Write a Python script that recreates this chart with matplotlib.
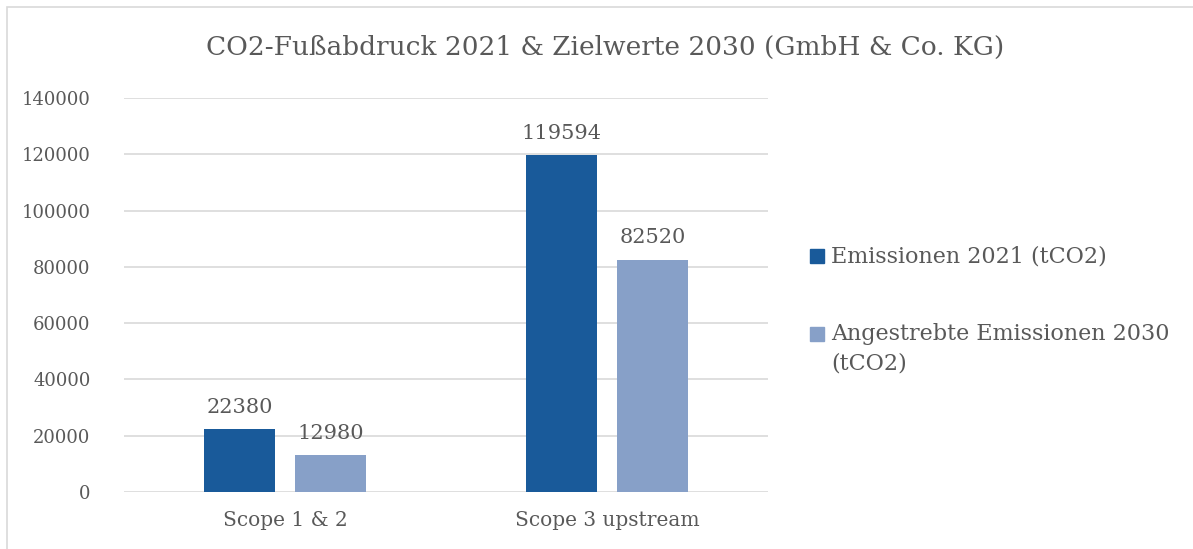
import matplotlib

matplotlib.use("Agg")
import matplotlib.pyplot as plt
import numpy as np
from matplotlib.patches import Rectangle

categories = ["Scope 1 & 2", "Scope 3 upstream"]
emissions_2021 = [22380, 119594]
target_2030 = [12980, 82520]
series_labels = ["Emissionen 2021 (tCO2)", "Angestrebte Emissionen 2030\n(tCO2)"]
yticks = [0, 20000, 40000, 60000, 80000, 100000, 120000, 140000]

DARK = "#195a9a"
LIGHT = "#87a0c8"
TXT = "#595959"
GRID = "#d9d9d9"

plt.rcParams["font.family"] = ["DejaVu Serif"]

W, H = 1193, 549
fig = plt.figure(figsize=(W / 100, H / 100), dpi=100)
# chart-area frame (only left and top edges fall inside the picture)
fig.patches.append(Rectangle((7 / W, -0.05), 1.2, 1 - 7 / H + 0.05, transform=fig.transFigure,
                             fill=False, edgecolor=GRID, linewidth=1.2))
ax = fig.add_axes([124 / W, 1 - 492 / H, 644 / W, 394 / H])

x = np.arange(len(categories))
w = 0.22
off = 0.141
b1 = ax.bar(x - off, emissions_2021, w, color=DARK, zorder=3)
b2 = ax.bar(x + off, target_2030, w, color=LIGHT, zorder=3)
for bars in (b1, b2):
    ax.bar_label(bars, padding=9, fontsize=15, color=TXT, fmt="%d")

ax.set_xlim(-0.5, 1.5)
ax.set_ylim(0, 140000)
ax.set_yticks(yticks)
ax.set_yticklabels([str(v) for v in yticks])
ax.set_xticks(x)
ax.set_xticklabels(categories)
ax.tick_params(axis="both", length=0, colors=TXT)
ax.tick_params(axis="y", pad=24, labelsize=13)
ax.tick_params(axis="x", pad=14, labelsize=14.5)
ax.grid(axis="y", color=GRID, linewidth=1.2, zorder=0)
for s in ax.spines.values():
    s.set_visible(False)

fig.text(605 / W, 1 - 47 / H, "CO2-Fußabdruck 2021 & Zielwerte 2030 (GmbH & Co. KG)",
         ha="center", va="center", fontsize=19, color=TXT)

# legend: square aligned with the first line of each label
for color, label, y_px in zip((DARK, LIGHT), series_labels, (256, 334)):
    fig.patches.append(Rectangle((810 / W, 1 - (y_px + 7) / H), 14 / W, 14 / H,
                                 transform=fig.transFigure, color=color))
    fig.text(831 / W, 1 - (y_px - 11) / H, label, ha="left", va="top",
             fontsize=16, color=TXT, linespacing=1.45)

fig.savefig("out.png", dpi=100)
